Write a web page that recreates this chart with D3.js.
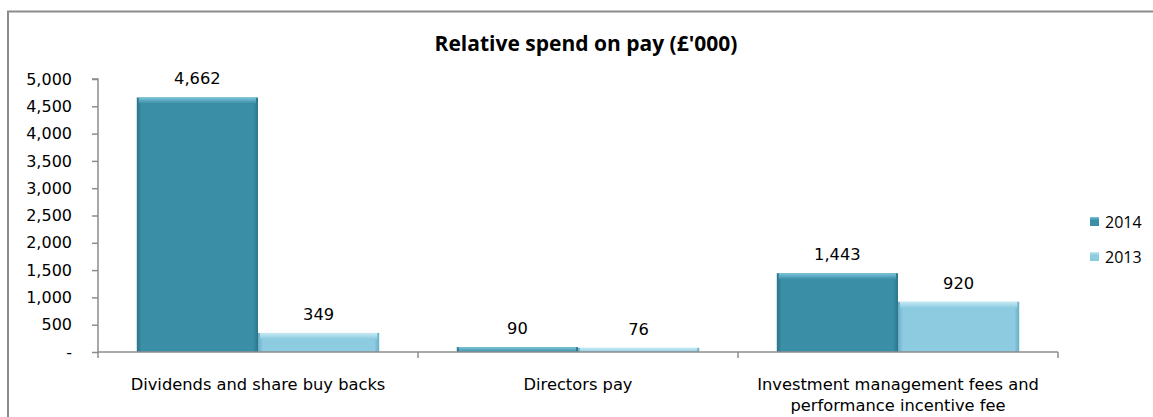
<!DOCTYPE html>
<html>
<head>
<meta charset="utf-8">
<script src="https://cdn.jsdelivr.net/npm/d3@7"></script>
<style>
  html, body { margin: 0; padding: 0; background: #fff; }
  svg { display: block; }
</style>
</head>
<body>
<svg id="chart" width="1153" height="417"></svg>
<script>
// Relative spend on pay, £'000
const categories = [
  ["Dividends and share buy backs"],
  ["Directors pay"],
  ["Investment management fees and", "performance incentive fee"]
];
const seriesNames = ["2014", "2013"];
const values2014 = [4662, 90, 1443];
const values2013 = [349, 76, 920];
const yTicks = [0, 500, 1000, 1500, 2000, 2500, 3000, 3500, 4000, 4500, 5000];

const seriesValues = [values2014, values2013];
const catKeys = categories.map(c => c.join(" "));

const svg = d3.select("#chart");
const plot = { left: 98, right: 1058, top: 79, bottom: 352 };

const numFmt = d3.format(",");
const tickFmt = v => v === 0 ? "-" : numFmt(v);
const bodyFont = "'DejaVu Sans', Verdana, sans-serif";
const bodySize = 16.3;

// Outer chart frame
svg.append("path")
  .attr("d", "M8,420 V11.5 H1160")
  .attr("fill", "none")
  .attr("stroke", "#8c8c8c")
  .attr("stroke-width", 2);

// Gradients giving the bars a bevelled look
const defs = svg.append("defs");
const palettes = {
  "2014": { base: "#3a8ea6", edge: "#2d7489", top: "#7cc6dc" },
  "2013": { base: "#8ccbe0", edge: "#6aaec6", top: "#c8eaf5" }
};
Object.entries(palettes).forEach(([name, p]) => {
  const h = defs.append("linearGradient").attr("id", "h" + name)
    .attr("x1", 0).attr("x2", 1).attr("y1", 0).attr("y2", 0);
  h.append("stop").attr("offset", "0%").attr("stop-color", p.edge);
  h.append("stop").attr("offset", "4%").attr("stop-color", p.base);
  h.append("stop").attr("offset", "96%").attr("stop-color", p.base);
  h.append("stop").attr("offset", "100%").attr("stop-color", p.edge);
  const v = defs.append("linearGradient").attr("id", "v" + name)
    .attr("x1", 0).attr("x2", 0).attr("y1", 0).attr("y2", 1);
  v.append("stop").attr("offset", "0%").attr("stop-color", p.top);
  v.append("stop").attr("offset", "100%").attr("stop-color", p.base);
});

// Scales
const x0 = d3.scaleBand().domain(catKeys).range([plot.left, plot.right]).padding(0);
const x1 = d3.scaleBand().domain(seriesNames).range([0, x0.bandwidth()])
  .paddingInner(0).paddingOuter(0.32);
const y = d3.scaleLinear().domain([0, 5000]).range([plot.bottom, plot.top]);

// Title
svg.append("text")
  .attr("x", 586).attr("y", 51)
  .attr("text-anchor", "middle")
  .attr("font-family", "'Open Sans', Lato, sans-serif")
  .attr("font-weight", "bold")
  .attr("font-size", 21)
  .attr("fill", "#000")
  .text("Relative spend on pay (£'000)");

// Y axis
const yAxis = d3.axisLeft(y).tickValues(yTicks).tickFormat(tickFmt).tickSize(6).tickPadding(20);
const gy = svg.append("g").attr("transform", `translate(${plot.left},0)`).call(yAxis);
gy.select(".domain").attr("stroke", "#8c8c8c").attr("stroke-width", 1.5)
  .attr("d", `M-6,${y(5000)}H0V${y(0)}`);
gy.selectAll(".tick line").attr("stroke", "#8c8c8c").attr("stroke-width", 1.5);
gy.selectAll(".tick text")
  .attr("font-family", bodyFont)
  .attr("font-size", 16)
  .attr("fill", "#000");

// Bars
const groups = svg.append("g").selectAll("g")
  .data(catKeys)
  .join("g")
  .attr("transform", d => `translate(${x0(d)},0)`);

seriesNames.forEach((name, si) => {
  const vals = seriesValues[si];
  const bar = groups.append("g");
  bar.append("rect")
    .attr("x", x1(name))
    .attr("y", (d, i) => y(vals[i]))
    .attr("width", x1.bandwidth())
    .attr("height", (d, i) => y(0) - y(vals[i]))
    .attr("fill", `url(#h${name})`);
  // lighter top lip of each bar
  bar.append("rect")
    .attr("x", x1(name) + 2)
    .attr("y", (d, i) => y(vals[i]))
    .attr("width", x1.bandwidth() - 4)
    .attr("height", (d, i) => Math.min(6, y(0) - y(vals[i])))
    .attr("fill", `url(#v${name})`);
  // value labels
  bar.append("text")
    .attr("x", x1(name) + x1.bandwidth() / 2)
    .attr("y", (d, i) => y(vals[i]) - 13)
    .attr("text-anchor", "middle")
    .attr("font-family", bodyFont)
    .attr("font-size", bodySize)
    .attr("fill", "#000")
    .text((d, i) => numFmt(vals[i]));
});

// X axis
const xAxis = d3.axisBottom(x0).tickSize(0).tickFormat("");
const gx = svg.append("g").attr("transform", `translate(0,${plot.bottom})`).call(xAxis);
gx.select(".domain").attr("stroke", "#8c8c8c").attr("stroke-width", 1.5)
  .attr("d", `M${plot.left},0H${plot.right}`);
// category boundary ticks
const bounds = catKeys.map(k => x0(k)).concat([x0(catKeys[catKeys.length - 1]) + x0.bandwidth()]);
gx.selectAll(".bound").data(bounds).join("line")
  .attr("class", "bound")
  .attr("x1", d => d).attr("x2", d => d)
  .attr("y1", 0).attr("y2", 6)
  .attr("stroke", "#8c8c8c").attr("stroke-width", 1.5);

// Category labels
const catLabels = svg.append("g").selectAll("text")
  .data(categories)
  .join("text")
  .attr("x", (d, i) => x0(catKeys[i]) + x0.bandwidth() / 2)
  .attr("y", 390)
  .attr("text-anchor", "middle")
  .attr("font-family", bodyFont)
  .attr("font-size", bodySize)
  .attr("fill", "#000");
catLabels.selectAll("tspan")
  .data(d => d)
  .join("tspan")
  .attr("x", function () { return this.parentNode.getAttribute("x"); })
  .attr("dy", (d, i) => i === 0 ? 0 : 21)
  .text(d => d);

// Legend
const legend = svg.append("g").selectAll("g")
  .data(seriesNames)
  .join("g")
  .attr("transform", (d, i) => `translate(1090,${217 + i * 35})`);
legend.append("rect")
  .attr("width", 9).attr("height", 9)
  .attr("fill", d => `url(#h${d})`);
legend.append("rect")
  .attr("width", 9).attr("height", 3)
  .attr("fill", d => `url(#v${d})`);
legend.append("text")
  .attr("x", 15).attr("y", 10.5)
  .attr("font-family", "'Open Sans', Lato, sans-serif")
  .attr("font-size", 16)
  .attr("fill", "#000")
  .text(d => d);
</script>
</body>
</html>
